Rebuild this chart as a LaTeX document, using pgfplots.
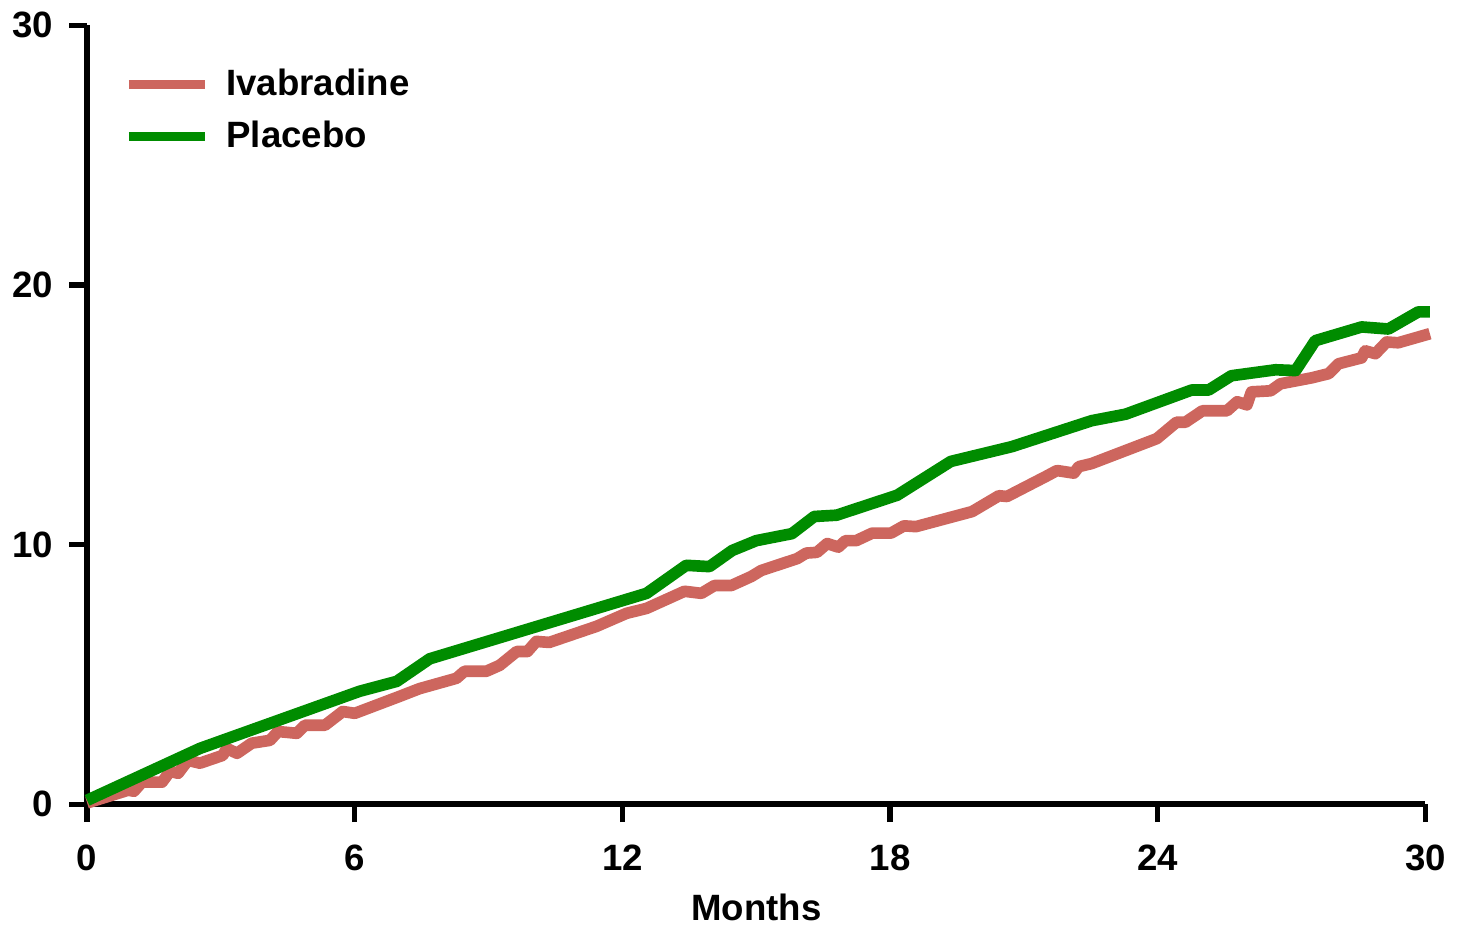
\documentclass[border=0pt]{standalone}
\usepackage{pgfplots}
\pgfplotsset{compat=1.18}
\usepackage{fontspec}
\setmainfont{Liberation Sans}
\definecolor{ivared}{RGB}{205,102,94}
\definecolor{plagreen}{RGB}{0,140,0}
\begin{document}
\fontsize{11}{13}\selectfont\bfseries
\begin{tikzpicture}
\begin{axis}[
  scale only axis,
  width=402pt, height=234pt,
  xmin=0, xmax=30, ymin=0, ymax=30,
  axis lines=left,
  axis line style={line width=1.8pt, -},
  xtick={0,6,12,18,24,30},
  ytick={0,10,20,30},
  tick align=outside,
  major tick length=5.4pt,
  tick style={line width=1.6pt, black},
  /pgf/number format/assume math mode=true,
  tick label style={font=\fontsize{11}{13}\selectfont\bfseries},
  xticklabel style={yshift=-3pt},
  yticklabel style={xshift=-1pt},
  xlabel={Months},
  xlabel style={font=\fontsize{11}{13}\selectfont\bfseries, yshift=0.5pt},
  legend style={draw=none, fill=none, at={(0.02,0.962)}, anchor=north west,
    font=\fontsize{11}{13}\selectfont\bfseries, row sep=2pt},
  legend cell align=left,
  legend image code/.code={\draw[#1, line width=2.6pt] (0pt,0pt) -- (23pt,0pt);},
  clip=false,
]
\addplot[color=ivared, line width=3.5pt, line join=round] coordinates {
(0,0.05) (0.92,0.54) (1.05,0.5) (1.23,0.85) (1.68,0.85) (1.86,1.27) (2.04,1.19)
(2.26,1.69) (2.53,1.58) (3.04,1.88) (3.13,2.15) (3.36,1.96) (3.69,2.35) (4.1,2.46)
(4.28,2.8) (4.7,2.73) (4.88,3.04) (5.33,3.04) (5.73,3.57) (6.0,3.5) (7.0,4.15)
(7.45,4.45) (8.28,4.85) (8.46,5.12) (8.95,5.12) (9.25,5.35) (9.63,5.88) (9.87,5.88)
(10.07,6.27) (10.36,6.23) (11.42,6.85) (12.09,7.35) (12.54,7.54) (13.39,8.2)
(13.77,8.12) (14.06,8.42) (14.44,8.42) (14.89,8.77) (15.11,9.0) (15.92,9.46)
(16.12,9.67) (16.36,9.7) (16.59,10.04) (16.84,9.9) (17.0,10.15) (17.24,10.15)
(17.6,10.44) (18.02,10.44) (18.31,10.72) (18.58,10.69) (19.84,11.27) (20.44,11.88)
(20.62,11.85) (21.49,12.62) (21.74,12.85) (22.12,12.75) (22.23,13.0) (22.52,13.12)
(23.98,14.08) (24.42,14.71) (24.62,14.71) (25.0,15.15) (25.55,15.15) (25.78,15.5)
(26.0,15.38) (26.1,15.88) (26.53,15.92) (26.75,16.19) (27.45,16.42) (27.83,16.58)
(28.05,16.96) (28.57,17.19) (28.65,17.46) (28.88,17.35) (29.13,17.8) (29.39,17.77)
(30.1,18.12)
};
\addlegendentry{\hspace{3pt}Ivabradine}
\addplot[color=plagreen, line width=3.5pt, line join=round] coordinates {
(0,0.15) (2.53,2.15) (6.11,4.35) (6.94,4.73) (7.68,5.6) (12.54,8.12) (13.43,9.2)
(13.95,9.15) (14.46,9.77) (15.0,10.15) (15.8,10.42) (16.3,11.08) (16.8,11.13)
(18.16,11.9) (19.36,13.2) (20.73,13.77) (22.52,14.77) (23.28,15.02) (24.76,15.95)
(25.14,15.95) (25.65,16.5) (26.64,16.73) (27.09,16.7) (27.53,17.85) (28.57,18.38)
(29.17,18.3) (29.84,18.96) (30.1,18.96)
};
\addlegendentry{\hspace{3pt}Placebo}
\end{axis}
\end{tikzpicture}
\end{document}
